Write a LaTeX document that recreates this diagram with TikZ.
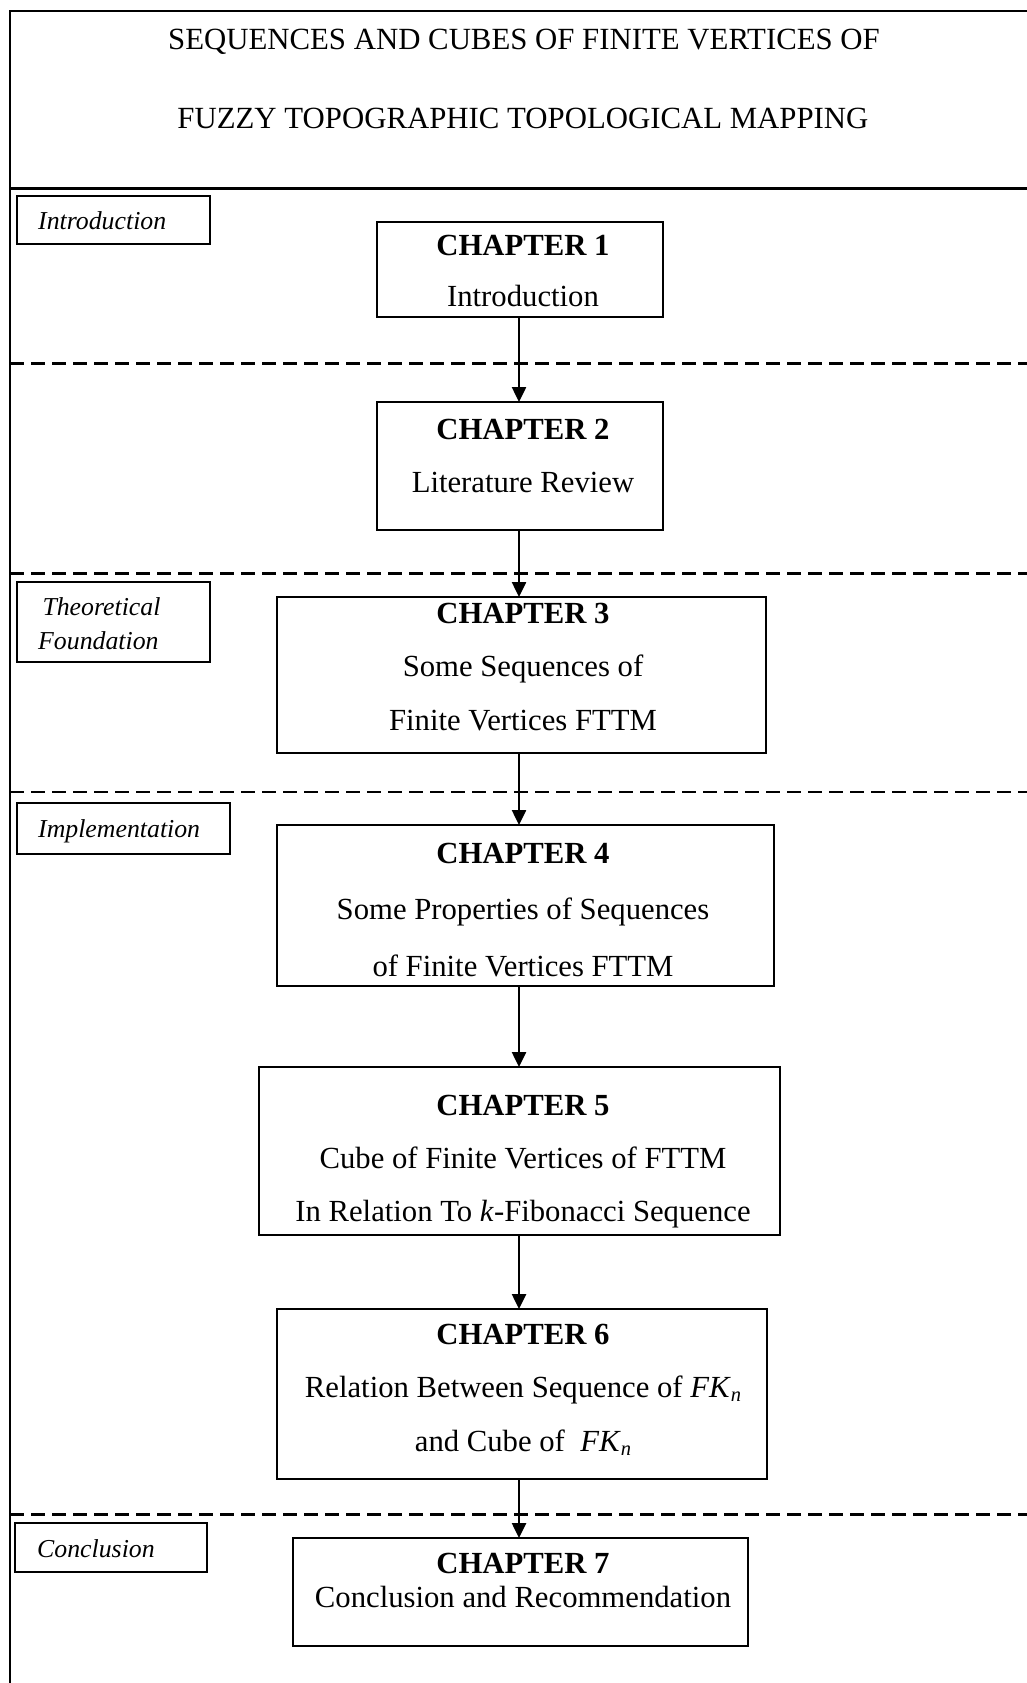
\documentclass[tikz,border=0pt]{standalone}
\usepackage{fontspec}
\setmainfont{Liberation Serif}
\usetikzlibrary{arrows.meta}
\newcommand{\chs}{\rule[-6pt]{0pt}{34pt}}
\newcommand{\lbs}{\rule[-6pt]{0pt}{28pt}}
\newcommand{\FKn}{\textit{FK}\raisebox{-4pt}{\fontsize{20.5}{20.5}\selectfont\itshape n}}
\begin{document}
\begin{tikzpicture}[x=1pt,y=-1pt,
  frame/.style={line width=2.8pt},
  divider/.style={line width=2.4pt, dash pattern=on 14pt off 7pt},
  chapbox/.style={draw, line width=2.5pt, inner sep=0pt, outer sep=0pt},
  chaptext/.style={align=center, inner sep=0pt, font=\fontsize{30.7}{#1}\selectfont},
  lblbox/.style={draw, line width=2.4pt, inner sep=0pt, outer sep=0pt},
  lbltext/.style={align=left, inner sep=0pt, font=\fontsize{25.8}{#1}\selectfont\itshape},
  titletext/.style={inner sep=0pt, anchor=base, font=\fontsize{30.8}{36}\selectfont},
  flow/.style={line width=2.5pt, -{Triangle[length=15pt,width=14pt]}}
]
\useasboundingbox (0,0) rectangle (1027,1683);
% frame
\draw[frame] (10,1690) -- (10,11) -- (1035,11);
\draw[frame] (10,188.3) -- (1035,188.3);
% title
\node[titletext] (t1) at (524,49.3) {SEQUENCES AND CUBES OF FINITE VERTICES OF};
\node[titletext] (t2) at (523,128.3) {FUZZY TOPOGRAPHIC TOPOLOGICAL MAPPING};
% dividers
\draw[divider] (10,363.3) -- (1030,363.3);
\draw[divider] (10,573.3) -- (1030,573.3);
\draw[divider] (10,791.7) -- (1030,791.7);
\draw[divider] (10,1514.3) -- (1030,1514.3);
% section labels
\node[lblbox, minimum width=193pt, minimum height=48pt] (lb1) at (113.5,220) {};
\node[lbltext=30, anchor=base west] (lt1) at (38,229.3) {Introduction};
\node[lblbox, minimum width=193pt, minimum height=80pt] (lb2) at (113.5,622) {};
\node[lbltext=34.3, anchor=west] (lt2) at (38,624.2) {\lbs\,Theoretical\\\lbs Foundation};
\node[lblbox, minimum width=213pt, minimum height=51pt] (lb3) at (123.5,828.5) {};
\node[lbltext=30, anchor=base west] (lt3) at (38,837.7) {Implementation};
\node[lblbox, minimum width=192pt, minimum height=49pt] (lb4) at (111,1547.5) {};
\node[lbltext=30, anchor=base west] (lt4) at (37,1557.3) {Conclusion};
% chapter boxes
\node[chapbox, minimum width=286pt, minimum height=95pt] (c1) at (520,269.5) {};
\node[chaptext=51.7] (c1t) at (523,269.9) {\chs\textbf{CHAPTER 1}\\\chs Introduction};
\node[chapbox, minimum width=286pt, minimum height=128pt] (c2) at (520,466) {};
\node[chaptext=52.7] (c2t) at (523,454.7) {\chs\textbf{CHAPTER 2}\\\chs Literature Review};
\node[chapbox, minimum width=489pt, minimum height=156pt] (c3) at (521.5,675) {};
\node[chaptext=53.3] (c3t) at (523,665.8) {\chs\textbf{CHAPTER 3}\\\chs Some Sequences of\\\chs Finite Vertices FTTM};
\node[chapbox, minimum width=497pt, minimum height=161pt] (c4) at (525.5,905.5) {};
\node[chaptext=56.5] (c4t) at (523,908.5) {\chs\textbf{CHAPTER 4}\\\chs Some Properties of Sequences\\\chs of Finite Vertices FTTM};
\node[chapbox, minimum width=521pt, minimum height=168pt] (c5) at (519.5,1151) {};
\node[chaptext=52.9] (c5t) at (523,1157.9) {\chs\textbf{CHAPTER 5}\\\chs Cube of Finite Vertices of FTTM\\\chs In Relation To \textit{k}-Fibonacci Sequence};
\node[chapbox, minimum width=490pt, minimum height=170pt] (c6) at (522,1394) {};
\node[chaptext=53.9] (c6t) at (523,1386.9) {\chs\textbf{CHAPTER 6}\\\chs Relation Between Sequence of \FKn\\\chs and Cube of\ \ \FKn};
\node[chapbox, minimum width=455pt, minimum height=108pt] (c7) at (520.5,1592) {};
\node[chaptext=34.4] (c7t) at (523,1579.5) {\chs\textbf{CHAPTER 7}\\\chs Conclusion and Recommendation};
% flow arrows
\coordinate (ax) at (519,0);
\draw[flow] (c1.south -| ax) -- (c2.north -| ax);
\draw[flow] (c2.south -| ax) -- (c3.north -| ax);
\draw[flow] (c3.south -| ax) -- (c4.north -| ax);
\draw[flow] (c4.south -| ax) -- (c5.north -| ax);
\draw[flow] (c5.south -| ax) -- (c6.north -| ax);
\draw[flow] (c6.south -| ax) -- (c7.north -| ax);
\end{tikzpicture}
\end{document}
